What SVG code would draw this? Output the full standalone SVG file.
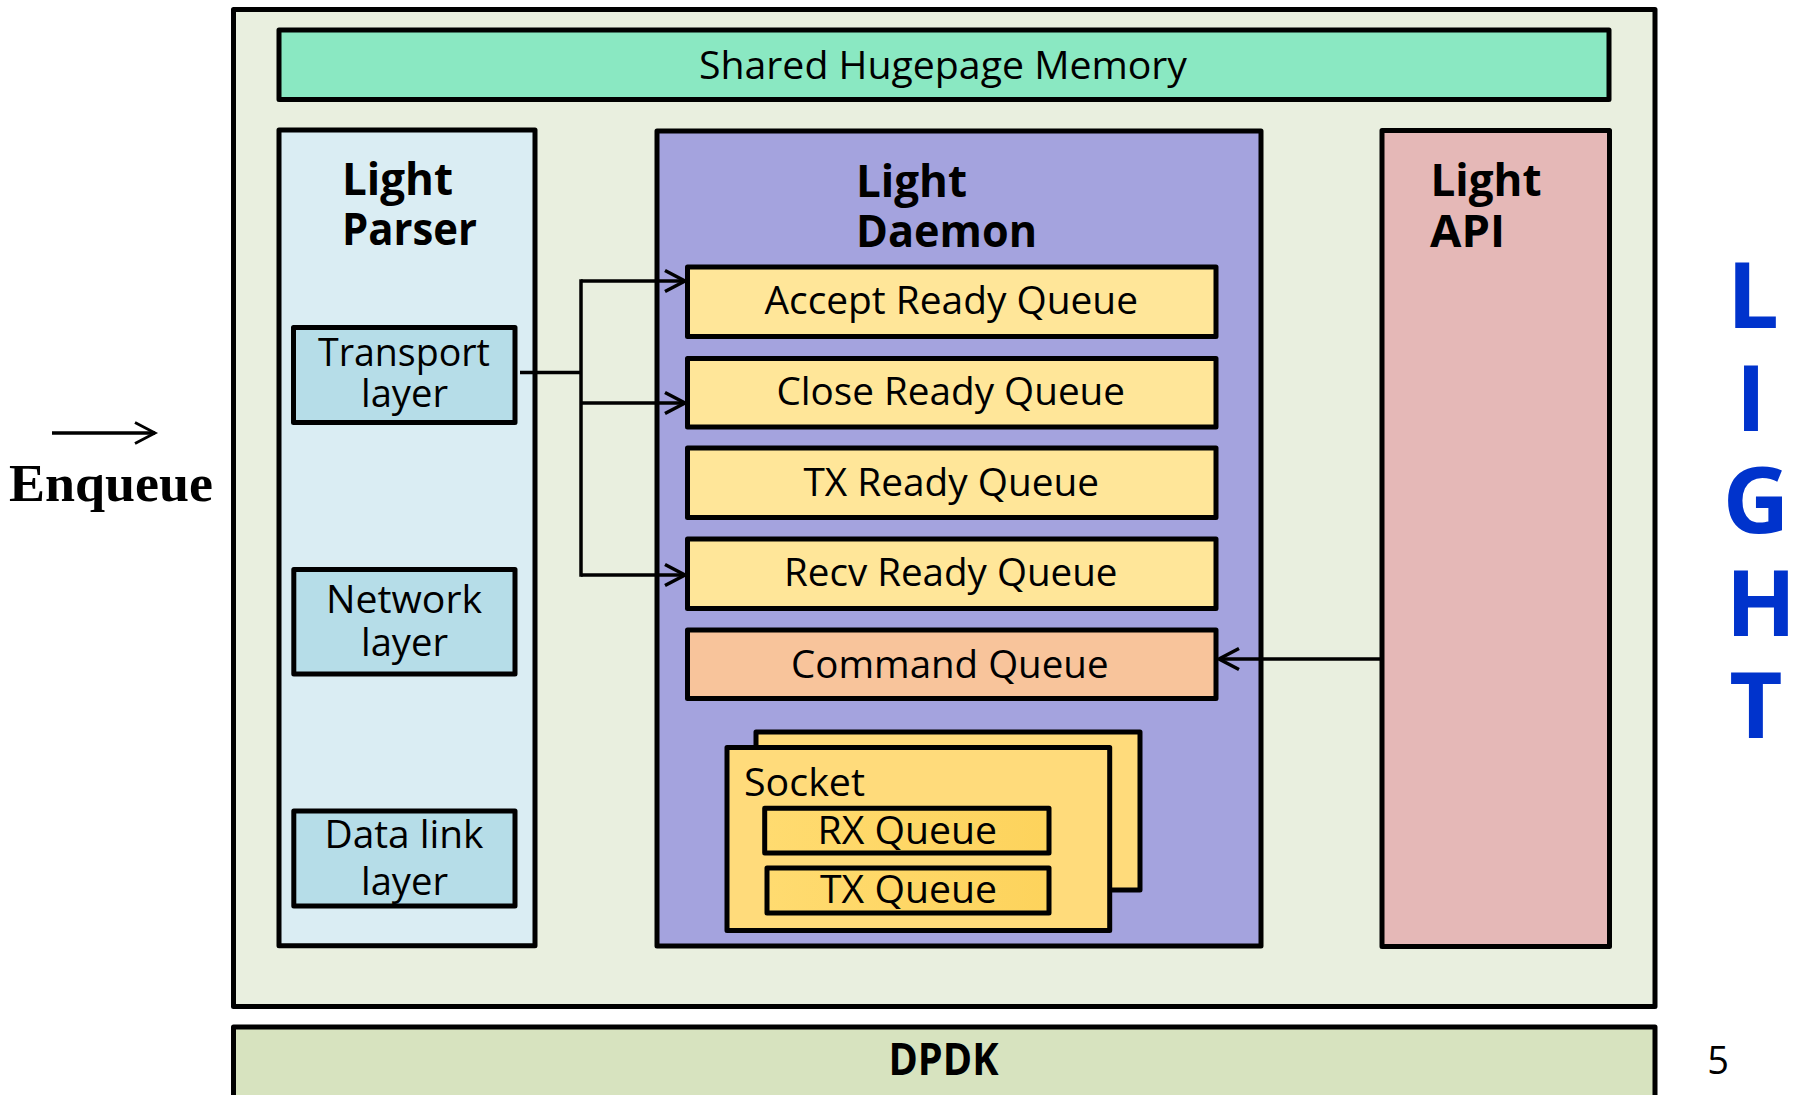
<svg xmlns="http://www.w3.org/2000/svg" width="1796" height="1095" viewBox="0 0 1796 1095">
<defs>
<style>
.box{stroke:#000;stroke-width:5;stroke-linejoin:round}
.t{font-family:"Open Sans","Noto Sans","Liberation Sans",sans-serif;font-size:38px;fill:#000}
.b{font-family:"Open Sans","Noto Sans","Liberation Sans",sans-serif;font-size:45px;font-weight:bold;fill:#000}
.big{font-family:"Open Sans","Noto Sans","Liberation Sans",sans-serif;font-size:92px;font-weight:bold;fill:#0033cc;text-anchor:middle}
.conn{fill:none;stroke:#000;stroke-width:3.5}
</style>
<linearGradient id="qg" x1="0" y1="0" x2="1" y2="0">
<stop offset="0" stop-color="#ffdb70"/>
<stop offset="1" stop-color="#fdd35c"/>
</linearGradient>
<marker id="ah" markerUnits="userSpaceOnUse" viewBox="-24 -14 28 28" markerWidth="28" markerHeight="28" refX="0" refY="0" orient="auto">
<path d="M-20,-10.5 L0,0 L-20,10.5" fill="none" stroke="#000" stroke-width="3.5"/>
</marker>
<marker id="ah2" markerUnits="userSpaceOnUse" viewBox="-24 -14 28 28" markerWidth="28" markerHeight="28" refX="0" refY="0" orient="auto">
<path d="M-20,-10.5 L0,0 L-20,10.5" fill="none" stroke="#000" stroke-width="2.8"/>
</marker>
</defs>
<rect width="1796" height="1095" fill="#fff"/>

<g id="outer">
<rect class="box" x="233.5" y="9.5" width="1421.5" height="997" fill="#e9efdf"/>
</g>

<g id="dpdk">
<rect class="box" x="233.5" y="1027" width="1421.5" height="90" fill="#d7e3bf"/>
<text class="b" x="888.5" y="1075" font-size="39" textLength="110" lengthAdjust="spacingAndGlyphs">DPDK</text>
</g>

<g id="shared">
<rect class="box" x="279" y="30" width="1330" height="69.5" fill="#8ae8c2"/>
<text class="t" x="699" y="78.5" font-size="39" textLength="488" lengthAdjust="spacingAndGlyphs">Shared Hugepage Memory</text>
</g>

<g id="parser">
<rect class="box" x="279" y="130" width="256" height="815.7" fill="#daedf3"/>
<text class="b" x="342" y="194.6" textLength="111" lengthAdjust="spacingAndGlyphs">Light</text>
<text class="b" x="342" y="244.6" textLength="135" lengthAdjust="spacingAndGlyphs">Parser</text>
</g>

<g id="transport">
<rect class="box" x="293.5" y="327.5" width="221.5" height="95" fill="#b6dde8"/>
<text class="t" x="318" y="366" textLength="172" lengthAdjust="spacingAndGlyphs">Transport</text>
<text class="t" x="361" y="407" textLength="87" lengthAdjust="spacingAndGlyphs">layer</text>
</g>

<g id="network">
<rect class="box" x="293.8" y="569.5" width="221.2" height="104.5" fill="#b6dde8"/>
<text class="t" x="326" y="612.5" textLength="156" lengthAdjust="spacingAndGlyphs">Network</text>
<text class="t" x="361" y="656" textLength="87" lengthAdjust="spacingAndGlyphs">layer</text>
</g>

<g id="datalink">
<rect class="box" x="293.8" y="811" width="221.2" height="95" fill="#b6dde8"/>
<text class="t" x="324.5" y="848" textLength="159" lengthAdjust="spacingAndGlyphs">Data link</text>
<text class="t" x="361" y="894.6" textLength="87" lengthAdjust="spacingAndGlyphs">layer</text>
</g>

<g id="daemon">
<rect class="box" x="657" y="131" width="604" height="815" fill="#a4a3de"/>
<text class="b" x="856" y="196.5" textLength="111" lengthAdjust="spacingAndGlyphs">Light</text>
<text class="b" x="856" y="246.7" textLength="181" lengthAdjust="spacingAndGlyphs">Daemon</text>
</g>

<g id="accept">
<rect class="box" x="687.5" y="267" width="528.5" height="69.5" fill="#ffe699"/>
<text class="t" x="764.5" y="314" textLength="373.5" lengthAdjust="spacingAndGlyphs">Accept Ready Queue</text>
</g>

<g id="close">
<rect class="box" x="687.5" y="358.5" width="528.5" height="68.5" fill="#ffe699"/>
<text class="t" x="776.5" y="405" textLength="348.5" lengthAdjust="spacingAndGlyphs">Close Ready Queue</text>
</g>

<g id="txready">
<rect class="box" x="687.5" y="448" width="528.5" height="69.5" fill="#ffe699"/>
<text class="t" x="803.5" y="496" textLength="295.5" lengthAdjust="spacingAndGlyphs">TX Ready Queue</text>
</g>

<g id="recvready">
<rect class="box" x="687.5" y="539" width="528.5" height="69.5" fill="#ffe699"/>
<text class="t" x="784" y="585.7" textLength="333.5" lengthAdjust="spacingAndGlyphs">Recv Ready Queue</text>
</g>

<g id="command">
<rect class="box" x="687.5" y="630" width="528.5" height="68.5" fill="#f8c49b"/>
<text class="t" x="791" y="677.5" textLength="317.5" lengthAdjust="spacingAndGlyphs">Command Queue</text>
</g>

<g id="socket">
<rect class="box" x="756" y="732" width="384" height="158" fill="#ffdb7b"/>
<rect class="box" x="727" y="747.5" width="382.7" height="183" fill="#ffdb7b"/>
<text class="t" x="744" y="796" textLength="121" lengthAdjust="spacingAndGlyphs">Socket</text>
</g>

<g id="rxqueue">
<rect class="box" x="764.7" y="808.3" width="284.3" height="44.7" fill="url(#qg)"/>
<text class="t" x="817.5" y="844" textLength="179.5" lengthAdjust="spacingAndGlyphs">RX Queue</text>
</g>

<g id="txqueue">
<rect class="box" x="767" y="868" width="282" height="45" fill="url(#qg)"/>
<text class="t" x="820" y="903.3" textLength="177" lengthAdjust="spacingAndGlyphs">TX Queue</text>
</g>

<g id="api">
<rect class="box" x="1382" y="130.5" width="227.5" height="816" fill="#e5b8b7"/>
<text class="b" x="1430.5" y="196.4" textLength="111" lengthAdjust="spacingAndGlyphs">Light</text>
<text class="b" x="1430" y="247" textLength="75" lengthAdjust="spacingAndGlyphs">API</text>
</g>

<g id="enqueue">
<text x="9" y="501" font-family="'Liberation Serif','Times New Roman',serif" font-weight="bold" font-size="53" textLength="204" lengthAdjust="spacingAndGlyphs">Enqueue</text>
</g>

<g id="light-title">
<text class="big" x="1753" y="328">L</text>
<text class="big" x="1751" y="430.5">I</text>
<text class="big" x="1756" y="533">G</text>
<text class="big" x="1761" y="635.5">H</text>
<text class="big" x="1756" y="737.5">T</text>
</g>

<g id="pagenum">
<text class="t" x="1718" y="1074" text-anchor="middle" font-size="39">5</text>
</g>

<g id="connectors">
<path class="conn" d="M520,372.5 H581"/>
<path class="conn" d="M581,279.3 V576.7"/>
<path class="conn" d="M581,281 H685" marker-end="url(#ah)"/>
<path class="conn" d="M581,403 H685" marker-end="url(#ah)"/>
<path class="conn" d="M581,575 H685" marker-end="url(#ah)"/>
<path class="conn" d="M1382,659 H1219" marker-end="url(#ah)"/>
<path class="conn" stroke-width="2.8" d="M52,433 H155" marker-end="url(#ah2)"/>
</g>
</svg>
